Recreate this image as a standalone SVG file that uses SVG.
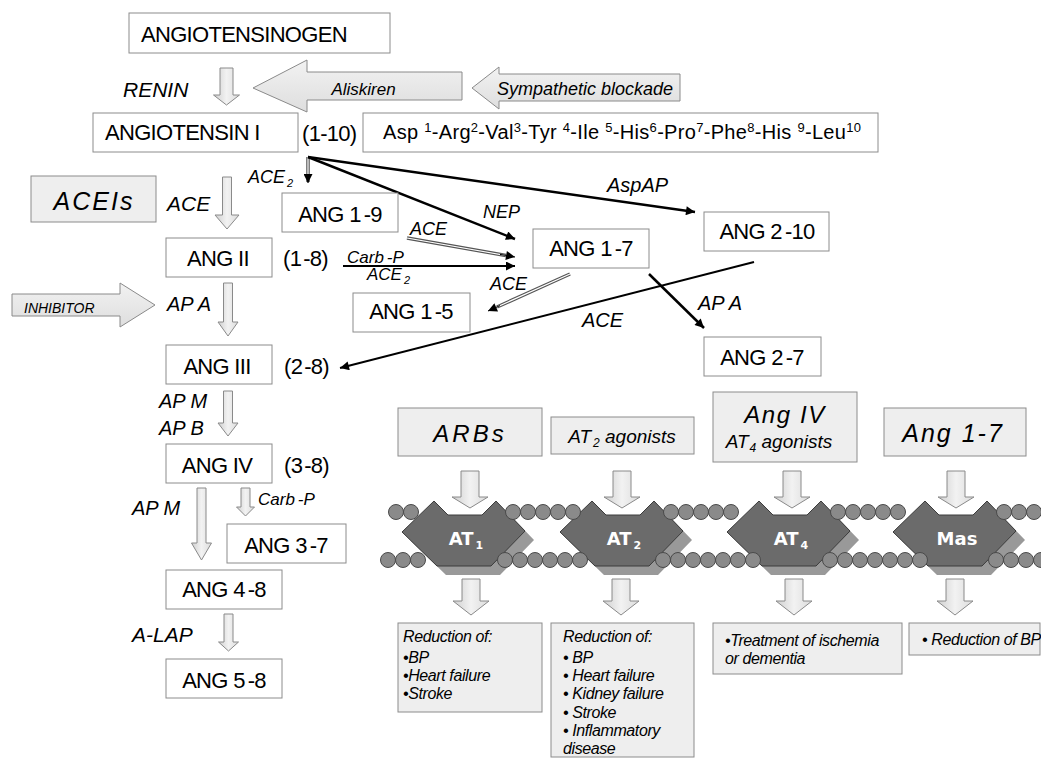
<svg xmlns="http://www.w3.org/2000/svg" width="1041" height="765" viewBox="0 0 1041 765">
<defs>
<style>
.box{fill:#fff;stroke:#8c8c8c;stroke-width:1}
.gbox{fill:#eeeeee;stroke:#8c8c8c;stroke-width:1}
.nt{font-family:"Liberation Sans",Arial,sans-serif;font-size:22px;letter-spacing:-0.7px;fill:#000}
.lab{font-family:"Liberation Sans",Arial,sans-serif;font-style:italic;fill:#000}
.eff{font-family:"Liberation Sans",Arial,sans-serif;font-style:italic;font-size:16px;letter-spacing:-0.4px;fill:#000}
.varr{fill:url(#gv);stroke:#8a8a8a;stroke-width:1}
.harr{fill:url(#gh);stroke:#8a8a8a;stroke-width:1}
.rec{fill:#6b6b6b;stroke:#3c3c3c;stroke-width:1}
.sh{fill:#999999}
.bead{fill:#8a8a8a;stroke:#4a4a4a;stroke-width:1}
.rt{font-family:"DejaVu Sans",Verdana,sans-serif;font-weight:bold;font-size:18px;fill:#fff}
.cb{fill:none;stroke:#000;stroke-width:2.5}
.cd{fill:none;stroke:#555;stroke-width:3.5}
.cw{fill:none;stroke:#fff;stroke-width:1.2}
</style>
<linearGradient id="gv" x1="0" y1="0" x2="1" y2="0">
<stop offset="0" stop-color="#cfcfcf"/><stop offset="0.5" stop-color="#f2f2f2"/><stop offset="1" stop-color="#dcdcdc"/>
</linearGradient>
<linearGradient id="gh" x1="0" y1="0" x2="0" y2="1">
<stop offset="0" stop-color="#f2f2f2"/><stop offset="1" stop-color="#dedede"/>
</linearGradient>
<marker id="ah" viewBox="0 0 10 10" refX="10" refY="5" markerWidth="11" markerHeight="9" markerUnits="userSpaceOnUse" orient="auto">
<path d="M0,0 L10,5 L0,10 z" fill="#000"/>
</marker>
<path id="rshape" d="M0,0 L32,-31 L46,-17 L80,-17 L94,-31 L123,-1 L89,34 L35,34 Z"/>
<path id="atop" d="M-9,0 L9,0 L9,26 L18,26 L0,37 L-18,26 L-9,26 Z"/>
<path id="abot" d="M-9,0 L9,0 L9,22 L18,22 L0,36 L-18,22 L-9,22 Z"/>
<circle id="bd" r="7.5"/>
</defs>

<!-- block arrows (drug / enzyme) -->
<g id="blockarrows">
<path class="harr" d="M253,88 L307,60 L307,72 L462,72 L462,100 L307,100 L307,112 Z"/>
<text class="lab" x="363.5" y="95" font-size="17" text-anchor="middle">Aliskiren</text>
<path class="harr" d="M472,88 L499,67 L499,74 L680,74 L680,101 L499,101 L499,109 Z"/>
<text class="lab" x="585" y="95" font-size="18" text-anchor="middle">Sympathetic blockade</text>
<path class="harr" d="M12,294 L120,294 L120,283 L155,305 L120,327 L120,316 L12,316 Z"/>
<text class="lab" x="24" y="313" font-size="14">INHIBITOR</text>
<path class="varr" d="M220,68 L233,68 L233,95 L239.5,95 L226.5,105 L213.5,95 L220,95 Z"/>
<path class="varr" d="M222.5,177 L231.5,177 L231.5,215 L239,215 L227,229 L215,215 L222.5,215 Z"/>
<path class="varr" d="M223.5,283 L232.5,283 L232.5,322 L238,322 L228,336 L218,322 L223.5,322 Z"/>
<path class="varr" d="M223.5,391 L232.5,391 L232.5,423 L238,423 L228,436 L218,423 L223.5,423 Z"/>
<path class="varr" d="M197,488 L206,488 L206,543 L211.5,543 L201.5,560 L191.5,543 L197,543 Z"/>
<path class="varr" d="M241,488 L250,488 L250,507 L254.5,507 L245.5,516 L236.5,507 L241,507 Z"/>
<path class="varr" d="M224,614 L233,614 L233,642 L238.5,642 L228.5,651 L218.5,642 L224,642 Z"/>
</g>

<!-- enzyme labels -->
<g id="labels">
<text class="lab" x="123" y="97" font-size="21">RENIN</text>
<text class="lab" x="167" y="211" font-size="21">ACE</text>
<text class="lab" x="167" y="311" font-size="20">AP A</text>
<text class="lab" x="159" y="408" font-size="20">AP M</text>
<text class="lab" x="159" y="435" font-size="20">AP B</text>
<text class="lab" x="132" y="515" font-size="20">AP M</text>
<text class="lab" x="258" y="505" font-size="17">Carb<tspan dx="3">-P</tspan></text>
<text class="lab" x="132" y="642" font-size="21">A-LAP</text>
<text class="lab" x="248" y="183" font-size="18">ACE<tspan font-size="11" dx="2" dy="4">2</tspan></text>
<text class="lab" x="483" y="218" font-size="18">NEP</text>
<text class="lab" x="410" y="235" font-size="18">ACE</text>
<text class="lab" x="347" y="263" font-size="17">Carb<tspan dx="3">-P</tspan></text>
<text class="lab" x="367" y="280" font-size="17">ACE<tspan font-size="11" dx="2" dy="4">2</tspan></text>
<text class="lab" x="490" y="290" font-size="18">ACE</text>
<text class="lab" x="607" y="192" font-size="20">AspAP</text>
<text class="lab" x="698" y="310" font-size="20">AP A</text>
<text class="lab" x="582" y="327" font-size="20">ACE</text>
</g>

<!-- connectors -->
<g id="connectors">
<line class="cd" x1="308" y1="157" x2="308" y2="182"/>
<line class="cw" x1="308" y1="157" x2="308" y2="175"/>
<line x1="308" y1="174" x2="308" y2="183" stroke="#000" stroke-width="1" marker-end="url(#ah)"/>
<line class="cb" x1="308" y1="157" x2="515" y2="239" marker-end="url(#ah)"/>
<line class="cb" x1="308" y1="157" x2="695" y2="212" marker-end="url(#ah)"/>
<line class="cd" x1="407" y1="238" x2="506" y2="255.5"/>
<line class="cw" x1="407" y1="238" x2="506" y2="255.5"/>
<line x1="500" y1="254.4" x2="515" y2="257" stroke="#000" stroke-width="1" marker-end="url(#ah)"/>
<line x1="343" y1="266" x2="515" y2="266" stroke="#000" stroke-width="2" marker-end="url(#ah)"/>
<line class="cd" x1="570" y1="274" x2="497" y2="307"/>
<line class="cw" x1="570" y1="274" x2="497" y2="307"/>
<line x1="500" y1="305.6" x2="488" y2="311" stroke="#000" stroke-width="1" marker-end="url(#ah)"/>
<line class="cb" x1="649" y1="274" x2="704" y2="328" marker-end="url(#ah)"/>
<line x1="754" y1="262" x2="340" y2="368" stroke="#000" stroke-width="2" marker-end="url(#ah)"/>
</g>

<!-- pathway nodes -->
<g id="n-angiotensinogen"><rect class="box" x="129" y="13" width="261" height="40"/><text class="nt" x="141" y="42">ANGIOTENSINOGEN</text></g>
<g id="n-ang1"><rect class="box" x="93" y="113" width="205" height="39"/><text class="nt" x="105" y="140">ANGIOTENSIN I</text></g>
<text class="nt" x="302" y="141" letter-spacing="0">(1-10)</text>
<g id="n-sequence"><rect class="box" x="363" y="113" width="515" height="39"/>
<text x="383" y="139" font-family="Liberation Sans, Arial, sans-serif" font-size="20" textLength="478" lengthAdjust="spacing">Asp <tspan font-size="13" dy="-7">1</tspan><tspan dy="7">-Arg</tspan><tspan font-size="13" dy="-7">2</tspan><tspan dy="7">-Val</tspan><tspan font-size="13" dy="-7">3</tspan><tspan dy="7">-Tyr </tspan><tspan font-size="13" dy="-7">4</tspan><tspan dy="7">-Ile </tspan><tspan font-size="13" dy="-7">5</tspan><tspan dy="7">-His</tspan><tspan font-size="13" dy="-7">6</tspan><tspan dy="7">-Pro</tspan><tspan font-size="13" dy="-7">7</tspan><tspan dy="7">-Phe</tspan><tspan font-size="13" dy="-7">8</tspan><tspan dy="7">-His </tspan><tspan font-size="13" dy="-7">9</tspan><tspan dy="7">-Leu</tspan><tspan font-size="13" dy="-7">10</tspan></text></g>
<g id="n-ang1-9"><rect class="box" x="282" y="193" width="116" height="39"/><text class="nt" x="340" y="222" text-anchor="middle">ANG 1<tspan dx="3">-9</tspan></text></g>
<g id="n-ang2"><rect class="box" x="166" y="238" width="106" height="39"/><text class="nt" x="218" y="266" text-anchor="middle">ANG II</text></g>
<text class="nt" x="283" y="266" letter-spacing="0">(1<tspan dx="2">-8)</tspan></text>
<g id="n-ang1-7"><rect class="box" x="533" y="229" width="116" height="39"/><text class="nt" x="591" y="256" text-anchor="middle">ANG 1<tspan dx="3">-7</tspan></text></g>
<g id="n-ang1-5"><rect class="box" x="353" y="293" width="117" height="39"/><text class="nt" x="411" y="319" text-anchor="middle">ANG 1<tspan dx="3">-5</tspan></text></g>
<g id="n-ang2-10"><rect class="box" x="704" y="212" width="125" height="39"/><text class="nt" x="767" y="239" text-anchor="middle">ANG 2<tspan dx="3">-10</tspan></text></g>
<g id="n-ang2-7"><rect class="box" x="704" y="337" width="117" height="39"/><text class="nt" x="762" y="365" text-anchor="middle">ANG 2<tspan dx="3">-7</tspan></text></g>
<g id="n-ang3"><rect class="box" x="166" y="345" width="106" height="39"/><text class="nt" x="217" y="374" text-anchor="middle">ANG III</text></g>
<text class="nt" x="284" y="374" letter-spacing="0">(2<tspan dx="2">-8)</tspan></text>
<g id="n-ang4"><rect class="box" x="166" y="444" width="106" height="39"/><text class="nt" x="217" y="473" text-anchor="middle">ANG IV</text></g>
<text class="nt" x="284" y="473" letter-spacing="0">(3<tspan dx="2">-8)</tspan></text>
<g id="n-ang3-7"><rect class="box" x="227" y="524" width="119" height="39"/><text class="nt" x="286" y="553" text-anchor="middle">ANG 3<tspan dx="3">-7</tspan></text></g>
<g id="n-ang4-8"><rect class="box" x="166" y="570" width="116" height="39"/><text class="nt" x="224" y="597" text-anchor="middle">ANG 4<tspan dx="3">-8</tspan></text></g>
<g id="n-ang5-8"><rect class="box" x="166" y="659" width="116" height="39"/><text class="nt" x="224" y="688" text-anchor="middle">ANG 5<tspan dx="3">-8</tspan></text></g>

<!-- drug boxes -->
<g id="d-aceis"><rect class="gbox" x="31" y="176" width="125" height="46"/><text class="lab" x="94" y="210" font-size="25" letter-spacing="2" text-anchor="middle">ACEIs</text></g>
<g id="d-arbs"><rect class="gbox" x="398" y="408" width="144" height="48"/><text class="lab" x="470" y="442" font-size="24" letter-spacing="3" text-anchor="middle">ARBs</text></g>
<g id="d-at2"><rect class="gbox" x="551" y="417" width="143" height="37"/><text class="lab" x="622" y="443" font-size="19" text-anchor="middle">AT<tspan font-size="12" dx="2" dy="4">2</tspan><tspan dy="-4"> agonists</tspan></text></g>
<g id="d-angiv"><rect class="gbox" x="713" y="392" width="144" height="70"/><text class="lab" x="785" y="423" font-size="24" letter-spacing="1.6" text-anchor="middle">Ang IV</text><text class="lab" x="779" y="448" font-size="19" text-anchor="middle">AT<tspan font-size="12" dx="1" dy="4">4</tspan><tspan dy="-4"> agonists</tspan></text></g>
<g id="d-ang17"><rect class="gbox" x="884" y="408" width="142" height="48"/><text class="lab" x="953" y="442" font-size="25" letter-spacing="2" text-anchor="middle">Ang 1-7</text></g>

<!-- receptor arrows -->
<g id="recarrows">
<use href="#atop" class="varr" x="470" y="471"/>
<use href="#atop" class="varr" x="622" y="471"/>
<use href="#atop" class="varr" x="792" y="471"/>
<use href="#atop" class="varr" x="956" y="471"/>
<use href="#abot" class="varr" x="471" y="579"/>
<use href="#abot" class="varr" x="621" y="579"/>
<use href="#abot" class="varr" x="794" y="579"/>
<use href="#abot" class="varr" x="955" y="579"/>
</g>

<!-- receptors -->
<g id="r-at1"><use href="#rshape" class="sh" x="411" y="541"/><use href="#rshape" class="rec" x="402" y="532"/><text class="rt" x="466" y="545" text-anchor="middle">AT<tspan font-size="11" dx="2" dy="4">1</tspan></text></g>
<g id="r-at2"><use href="#rshape" class="sh" x="569" y="541"/><use href="#rshape" class="rec" x="560" y="532"/><text class="rt" x="624" y="545" text-anchor="middle">AT<tspan font-size="11" dx="2" dy="4">2</tspan></text></g>
<g id="r-at4"><use href="#rshape" class="sh" x="736" y="541"/><use href="#rshape" class="rec" x="727" y="532"/><text class="rt" x="791" y="545" text-anchor="middle">AT<tspan font-size="11" dx="2" dy="4">4</tspan></text></g>
<g id="r-mas"><use href="#rshape" class="sh" x="902" y="541"/><use href="#rshape" class="rec" x="893" y="532"/><text class="rt" x="957" y="545" text-anchor="middle">Mas</text></g>

<!-- membrane beads -->
<g id="membrane" class="bead">
<use href="#bd" x="396" y="512"/><use href="#bd" x="411" y="512"/>
<use href="#bd" x="513" y="512"/><use href="#bd" x="528" y="512"/><use href="#bd" x="543" y="512"/><use href="#bd" x="558" y="512"/><use href="#bd" x="573" y="512"/>
<use href="#bd" x="671" y="512"/><use href="#bd" x="686" y="512"/><use href="#bd" x="701" y="512"/><use href="#bd" x="716" y="512"/><use href="#bd" x="731" y="512"/>
<use href="#bd" x="838" y="512"/><use href="#bd" x="853" y="512"/><use href="#bd" x="868" y="512"/><use href="#bd" x="883" y="512"/><use href="#bd" x="898" y="512"/>
<use href="#bd" x="1004" y="512"/><use href="#bd" x="1019" y="512"/><use href="#bd" x="1034" y="512"/>
<use href="#bd" x="388" y="560"/><use href="#bd" x="403" y="560"/><use href="#bd" x="418" y="560"/>
<use href="#bd" x="505" y="560"/><use href="#bd" x="520" y="560"/><use href="#bd" x="535" y="560"/><use href="#bd" x="550" y="560"/><use href="#bd" x="565" y="560"/><use href="#bd" x="580" y="560"/>
<use href="#bd" x="663" y="560"/><use href="#bd" x="678" y="560"/><use href="#bd" x="693" y="560"/><use href="#bd" x="708" y="560"/><use href="#bd" x="723" y="560"/><use href="#bd" x="738" y="560"/><use href="#bd" x="753" y="560"/>
<use href="#bd" x="830" y="560"/><use href="#bd" x="845" y="560"/><use href="#bd" x="860" y="560"/><use href="#bd" x="875" y="560"/><use href="#bd" x="890" y="560"/><use href="#bd" x="905" y="560"/><use href="#bd" x="920" y="560"/>
<use href="#bd" x="996" y="560"/><use href="#bd" x="1011" y="560"/><use href="#bd" x="1026" y="560"/><use href="#bd" x="1041" y="560"/>
</g>

<!-- effect boxes -->
<g id="e-at1"><rect class="gbox" x="398" y="623" width="144" height="89"/>
<text class="eff" x="403" y="642">Reduction of:</text>
<text class="eff" x="403" y="663">•BP</text>
<text class="eff" x="403" y="681">•Heart failure</text>
<text class="eff" x="403" y="699">•Stroke</text></g>
<g id="e-at2"><rect class="gbox" x="551" y="623" width="143" height="134"/>
<text class="eff" x="563" y="642">Reduction of:</text>
<text class="eff" x="563" y="663">• BP</text>
<text class="eff" x="563" y="681">• Heart failure</text>
<text class="eff" x="563" y="699">• Kidney failure</text>
<text class="eff" x="563" y="718">• Stroke</text>
<text class="eff" x="563" y="736">• Inflammatory</text>
<text class="eff" x="563" y="754">disease</text></g>
<g id="e-at4"><rect class="gbox" x="713" y="623" width="189" height="51"/>
<text class="eff" x="725" y="646">•Treatment of ischemia</text>
<text class="eff" x="725" y="664">or dementia</text></g>
<g id="e-mas"><rect class="gbox" x="909" y="623" width="131" height="32"/>
<text class="eff" x="922" y="645">• Reduction of BP</text></g>
</svg>
